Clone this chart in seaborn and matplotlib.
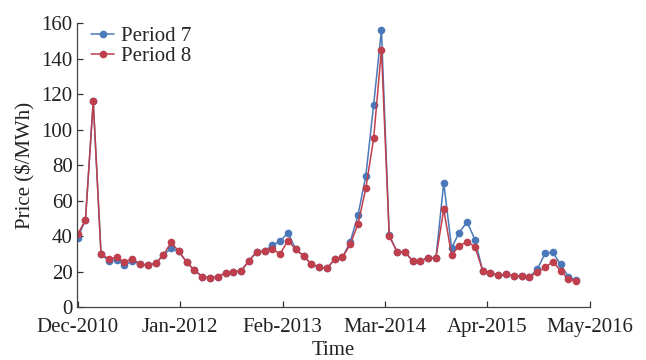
import numpy as np
import pandas as pd
import matplotlib
matplotlib.use("Agg")
import matplotlib.pyplot as plt
import seaborn as sns

# Monthly prices ($/MWh), Dec-2010 onwards
period7 = [39, 49, 116, 30, 26, 26.5, 23.7, 26, 24.2, 23.7, 24.6, 29.3, 33, 31.4,
           25.2, 20.8, 17, 16.5, 17, 19.3, 19.7, 20.5, 26.1, 31.2, 31.5, 35, 37,
           42, 32.5, 28.8, 24.2, 22.7, 21.8, 26.9, 28, 36.8, 52, 74, 114, 156,
           40.6, 31.2, 31.2, 25.9, 25.9, 27.8, 27.8, 70, 33.4, 42, 48, 38, 20.5,
           19.3, 17.8, 18.4, 17.5, 17.5, 17.1, 21.2, 30.2, 30.8, 24, 17, 15]
period8 = [41, 49, 116, 30, 27, 28, 25.4, 27.2, 24.2, 23.7, 24.6, 29.3, 36.4, 31.4,
           25.2, 20.8, 17, 16.5, 17, 19.3, 19.7, 20.5, 26.1, 31.2, 31.5, 32.5, 30,
           37.5, 32.5, 28.8, 24.2, 22.7, 21.8, 26.9, 28, 35.3, 47, 67, 95, 145,
           40, 31.2, 31.2, 25.9, 25.9, 27.8, 27.8, 55, 29.3, 34.5, 36.8, 34, 20.5,
           19.3, 17.8, 18.4, 17.5, 17.5, 17.1, 19.5, 22.3, 25.5, 20.5, 15.8, 14.8]
tick_labels = ["Dec-2010", "Jan-2012", "Feb-2013", "Mar-2014", "Apr-2015", "May-2016"]
series_names = ["Period 7", "Period 8"]
colors = ["#4a78b8", "#bf3f4c"]

month = np.arange(len(period7))
df = pd.concat([
    pd.DataFrame({"Time": month, "Price": period7, "Series": series_names[0]}),
    pd.DataFrame({"Time": month, "Price": period8, "Series": series_names[1]}),
], ignore_index=True)

sns.set_style("ticks")
plt.rcParams["font.family"] = ["Liberation Serif", "DejaVu Serif"]
plt.rcParams["font.size"] = 15

fig = plt.figure(figsize=(6.46, 3.6), dpi=100)
ax = fig.add_axes([0.119, 0.147, 0.794, 0.789])

sns.lineplot(data=df, x="Time", y="Price", hue="Series",
             palette=dict(zip(series_names, colors)), marker="o",
             markersize=5.5, markeredgewidth=0, linewidth=1.1, ax=ax)

xmax = 65.75
ax.set_xlim(-0.1, xmax)
ax.set_ylim(0, 160)
ax.set_xticks(np.linspace(0, xmax, len(tick_labels)))
ax.set_xticklabels(tick_labels)
ax.set_yticks(np.arange(0, 161, 20))
ax.tick_params(direction="in", length=4, width=0.9, labelsize=15,
               colors="#333333", labelcolor="#222222")
ax.tick_params(axis="x", pad=8)
ax.tick_params(axis="y", pad=3)
for side in ["top", "right"]:
    ax.spines[side].set_visible(False)
for side in ["left", "bottom"]:
    ax.spines[side].set_color("#444444")
    ax.spines[side].set_linewidth(0.9)

ax.set_xlabel("Time", fontsize=15, labelpad=3, color="#222222")
ax.set_ylabel(r"Price (\$/MWh)", fontsize=15, labelpad=4, color="#222222")

leg = ax.legend(loc="upper left", bbox_to_anchor=(0.0, 1.04), frameon=False,
                fontsize=15, handlelength=1.1, handletextpad=0.3,
                labelspacing=0.05, borderaxespad=0.3)

fig.savefig("out.png", dpi=100)
